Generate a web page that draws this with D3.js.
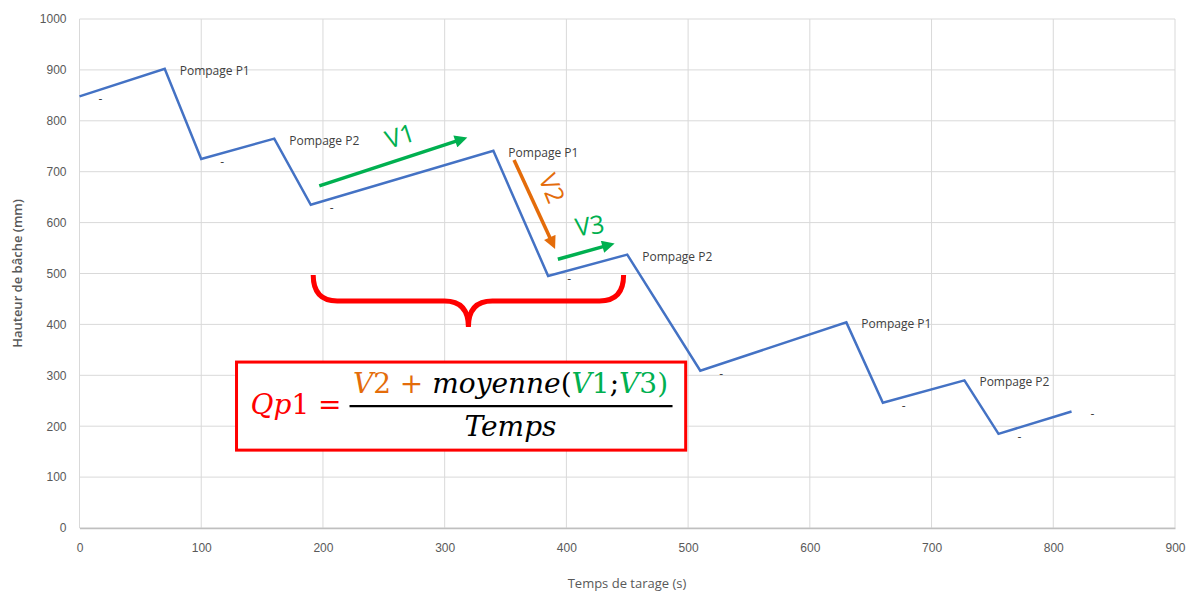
<!DOCTYPE html>
<html>
<head>
<meta charset="utf-8">
<script src="https://cdn.jsdelivr.net/npm/d3@7"></script>
<style>
  body { margin: 0; background: #fff; }
  svg { display: block; font-family: "Open Sans", "Liberation Sans", sans-serif; }
</style>
</head>
<body>
<div id="fig"></div>
<script>
// chart data
var times   = [0, 70, 100, 160, 190, 340, 385, 450, 510, 630, 660, 727, 755, 815];
var heights = [848, 902, 725, 765, 635, 741, 495, 537, 309, 404, 246, 290, 185, 229];
var labels  = ["-", "Pompage P1", "-", "Pompage P2", "-", "Pompage P1", "-", "Pompage P2",
               "-", "Pompage P1", "-", "Pompage P2", "-", "-"];
var xTicks = [0, 100, 200, 300, 400, 500, 600, 700, 800, 900];
var yTicks = [0, 100, 200, 300, 400, 500, 600, 700, 800, 900, 1000];

// annotation arrows, in data units [t, h]
var arrows = [
  {name: "V1", from: [197, 672], to: [317, 766], color: "#00b050", txt: [263, 772], rot: -18},
  {name: "V2", from: [357, 723], to: [390, 552], color: "#e46c0a", txt: [389, 668], rot: 68},
  {name: "V3", from: [393, 528], to: [438, 558], color: "#00b050", txt: [419, 596], rot: -8}
];
// brace spans the measured interval
var braceT = [192, 447], braceH = [497, 446, 395];

var margin = {top: 19, right: 23, bottom: 64, left: 79.5},
    width = 1198 - margin.left - margin.right,
    height = 592 - margin.top - margin.bottom;

var svg = d3.select("#fig").append("svg")
    .attr("width", 1198)
    .attr("height", 592);

var g = svg.append("g")
    .attr("transform", "translate(" + margin.left + "," + margin.top + ")");

var x = d3.scaleLinear().domain([0, 900]).range([0, width]);
var y = d3.scaleLinear().domain([0, 1000]).range([height, 0]);

// gridlines
g.append("g").selectAll("line").data(yTicks).enter().append("line")
  .attr("x1", 0).attr("x2", width)
  .attr("y1", function(d) { return y(d); }).attr("y2", function(d) { return y(d); })
  .attr("stroke", "#d9d9d9").attr("stroke-width", 1);
g.append("g").selectAll("line").data(xTicks).enter().append("line")
  .attr("y1", 0).attr("y2", height)
  .attr("x1", function(d) { return x(d); }).attr("x2", function(d) { return x(d); })
  .attr("stroke", "#d9d9d9").attr("stroke-width", 1);

// x axis
var xAxis = g.append("g")
  .attr("transform", "translate(0," + height + ")")
  .call(d3.axisBottom(x).tickValues(xTicks).tickFormat(d3.format("d")).tickSize(0).tickPadding(15));
xAxis.select(".domain").attr("stroke", "#bfbfbf").attr("stroke-width", 1.5);
xAxis.selectAll("text").attr("fill", "#595959").style("font-size", "12px");

// y axis
var yAxis = g.append("g")
  .call(d3.axisLeft(y).tickValues(yTicks).tickFormat(d3.format("d")).tickSize(0).tickPadding(13));
yAxis.select(".domain").remove();
yAxis.selectAll("text").attr("fill", "#595959").style("font-size", "12px");

// axis titles
svg.append("text")
  .attr("x", 627).attr("y", 588)
  .attr("text-anchor", "middle")
  .attr("fill", "#595959")
  .style("font-size", "13px")
  .text("Temps de tarage (s)");
svg.append("text")
  .attr("transform", "translate(22," + (margin.top + height / 2) + ") rotate(-90)")
  .attr("text-anchor", "middle")
  .attr("fill", "#595959")
  .style("font-size", "13px")
  .style("font-weight", "600")
  .text("Hauteur de bâche (mm)");

// the series line
var pts = times.map(function(t, i) { return {t: t, h: heights[i], label: labels[i]}; });
var line = d3.line().x(function(d) { return x(d.t); }).y(function(d) { return y(d.h); });
g.append("path")
  .datum(pts)
  .attr("d", line)
  .attr("fill", "none")
  .attr("stroke", "#4472c4")
  .attr("stroke-width", 2.5)
  .attr("stroke-linejoin", "miter");

// data labels
g.append("g").selectAll("text").data(pts).enter().append("text")
  .attr("x", function(d) { return x(d.t) + (d.label == "-" ? 19 : 15); })
  .attr("y", function(d) { return y(d.h) + (d.label == "-" ? 7 : 6); })
  .attr("fill", "#404040")
  .style("font-size", "12px")
  .text(function(d) { return d.label; });

// arrowheads
var defs = svg.append("defs");
arrows.forEach(function(a) {
  defs.append("marker")
    .attr("id", "head-" + a.name)
    .attr("viewBox", "0 0 10 10")
    .attr("refX", 2).attr("refY", 5)
    .attr("markerWidth", 4).attr("markerHeight", 3.6)
    .attr("markerUnits", "strokeWidth")
    .attr("orient", "auto")
    .append("path").attr("d", "M0,0 L10,5 L0,10 z").attr("fill", a.color);
});

function ang(d) {
  return Math.atan2(y(d.to[1]) - y(d.from[1]), x(d.to[0]) - x(d.from[0]));
}
g.append("g").selectAll("line").data(arrows).enter().append("line")
  .attr("x1", function(d) { return x(d.from[0]); })
  .attr("y1", function(d) { return y(d.from[1]); })
  .attr("x2", function(d) { return x(d.to[0]) - 8 * Math.cos(ang(d)); })
  .attr("y2", function(d) { return y(d.to[1]) - 8 * Math.sin(ang(d)); })
  .attr("stroke", function(d) { return d.color; })
  .attr("stroke-width", 3.5)
  .attr("marker-end", function(d) { return "url(#head-" + d.name + ")"; });

g.append("g").selectAll("text").data(arrows).enter().append("text")
  .attr("transform", function(d) {
    return "translate(" + x(d.txt[0]) + "," + y(d.txt[1]) + ") rotate(" + d.rot + ")";
  })
  .attr("text-anchor", "middle")
  .attr("dominant-baseline", "central")
  .attr("fill", function(d) { return d.color; })
  .style("font-size", "25px")
  .text(function(d) { return d.name; });

// red brace
var bx0 = x(braceT[0]), bx1 = x(braceT[1]), bxm = (bx0 + bx1) / 2;
var byT = y(braceH[0]), byH = y(braceH[1]), byTip = y(braceH[2]);
g.append("path")
  .attr("d", "M" + bx0 + "," + byT +
    " Q" + bx0 + "," + byH + " " + (bx0 + 24) + "," + byH +
    " L" + (bxm - 24) + "," + byH +
    " Q" + bxm + "," + byH + " " + bxm + "," + byTip +
    " Q" + bxm + "," + byH + " " + (bxm + 24) + "," + byH +
    " L" + (bx1 - 24) + "," + byH +
    " Q" + bx1 + "," + byH + " " + bx1 + "," + byT)
  .attr("fill", "none")
  .attr("stroke", "#ff0000")
  .attr("stroke-width", 5);

// formula box
var box = {x0: x(129), x1: x(498), y0: y(326), y1: y(153)};
g.append("rect")
  .attr("x", box.x0).attr("y", box.y0)
  .attr("width", box.x1 - box.x0).attr("height", box.y1 - box.y0)
  .attr("fill", "#fff")
  .attr("stroke", "#ff0000")
  .attr("stroke-width", 3);

var fx = box.x0, fy = box.y0;
var mathFont = "'DejaVu Serif', 'Liberation Serif', serif";

var lhs = g.append("text")
  .attr("x", fx + 14).attr("y", fy + 52)
  .attr("fill", "#ff0000")
  .style("font-family", mathFont)
  .style("font-size", "28px");
lhs.append("tspan").style("font-style", "italic").text("Qp");
lhs.append("tspan").text("1 =");

var num = g.append("text")
  .attr("x", fx + 274).attr("y", fy + 31)
  .attr("text-anchor", "middle")
  .style("font-family", mathFont)
  .style("font-size", "28px");
num.append("tspan").attr("fill", "#e46c0a").style("font-style", "italic").text("V");
num.append("tspan").attr("fill", "#e46c0a").text("2 + ");
num.append("tspan").attr("fill", "#000").style("font-style", "italic").text("moyenne");
num.append("tspan").attr("fill", "#000").text("(");
num.append("tspan").attr("fill", "#00b050").style("font-style", "italic").text("V");
num.append("tspan").attr("fill", "#00b050").text("1");
num.append("tspan").attr("fill", "#000").text(";");
num.append("tspan").attr("fill", "#00b050").style("font-style", "italic").text("V");
num.append("tspan").attr("fill", "#00b050").text("3)");

g.append("line")
  .attr("x1", fx + 113).attr("x2", fx + 436)
  .attr("y1", fy + 44).attr("y2", fy + 44)
  .attr("stroke", "#000").attr("stroke-width", 2.2);

g.append("text")
  .attr("x", fx + 274).attr("y", fy + 74)
  .attr("text-anchor", "middle")
  .style("font-family", mathFont)
  .style("font-size", "28px")
  .style("font-style", "italic")
  .attr("fill", "#000")
  .text("Temps");
</script>
</body>
</html>
